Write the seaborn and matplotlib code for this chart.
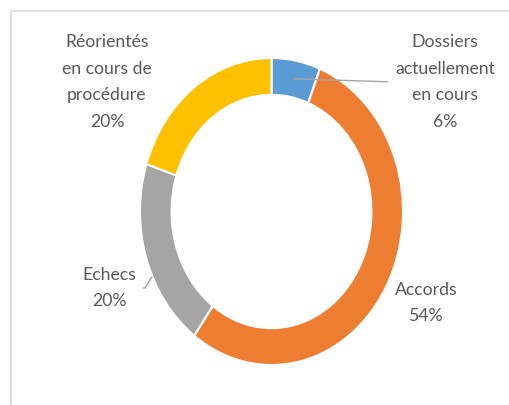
import numpy as np
import matplotlib.pyplot as plt
import seaborn as sns
from matplotlib.patches import Rectangle

# Data
labels = ['Dossiers\nactuellement\nen cours', 'Accords', 'Echecs',
          'Réorientés\nen cours de\nprocédure']
values = [6, 54, 20, 20]
colors = ['#5B9BD5', '#ED7D31', '#A5A5A5', '#FFC000']

sns.set_theme(style='white')
plt.rcParams['font.family'] = ['Lato', 'DejaVu Sans']

W, H = 510, 405
fig = plt.figure(figsize=(W / 100, H / 100), dpi=100)

# light gray frame of the chart area (cut on the right and bottom)
fig.patches.append(Rectangle((11 / W, -0.1), 1.2, 1.1 - 11 / H,
                             transform=fig.transFigure, fill=False,
                             edgecolor='#d9d9d9', linewidth=1.2))

# donut is stretched vertically in the reference
ax = fig.add_axes([140 / W, 40 / H, 263 / W, 307 / H])
wedges, _ = ax.pie(values, colors=colors, startangle=90, counterclock=False,
                   radius=1.0,
                   wedgeprops=dict(width=0.24, edgecolor='white', linewidth=1.5))
ax.set_aspect('auto')
ax.set_xlim(-1, 1)
ax.set_ylim(-1, 1)
ax.axis('off')

total = sum(values)
pcts = [f'{round(100 * v / total)}%' for v in values]
texts = [f'{lab}\n{p}' for lab, p in zip(labels, pcts)]

# label centres (figure pixels)
label_pos = [(445, 82), (426, 303), (109, 288), (107, 82)]
txt_kw = dict(ha='center', va='center', fontsize=12.7, color='#595959',
              linespacing=1.8, xycoords='data', textcoords='figure fraction')

# mid-angle of each wedge
angles = []
start = 90.0
for v in values:
    sweep = 360.0 * v / total
    angles.append(np.deg2rad(start - sweep / 2))
    start -= sweep

for i, (t, (px, py)) in enumerate(zip(texts, label_pos)):
    xyt = (px / W, 1 - py / H)
    if i == 0:
        r = 0.88
        xy = (r * np.cos(angles[i]), r * np.sin(angles[i]))
        ax.annotate(t, xy=xy, xytext=xyt,
                    arrowprops=dict(arrowstyle='-', color='#a6a6a6', lw=1.0,
                                    relpos=(0, 0.5), shrinkA=3, shrinkB=0),
                    annotation_clip=False, **txt_kw)
    elif i == 2:
        ax.annotate(t, xy=(-0.91, -0.425), xytext=xyt,
                    arrowprops=dict(arrowstyle='-', color='#a6a6a6', lw=1.0,
                                    relpos=(1, 0.5), shrinkA=3, shrinkB=0,
                                    connectionstyle='angle,angleA=0,angleB=59,rad=0'),
                    annotation_clip=False, **txt_kw)
    else:
        ax.annotate(t, xy=xyt, xycoords='figure fraction', xytext=xyt,
                    **{k: v for k, v in txt_kw.items() if k != 'xycoords'})

fig.savefig('out.png', dpi=100)
